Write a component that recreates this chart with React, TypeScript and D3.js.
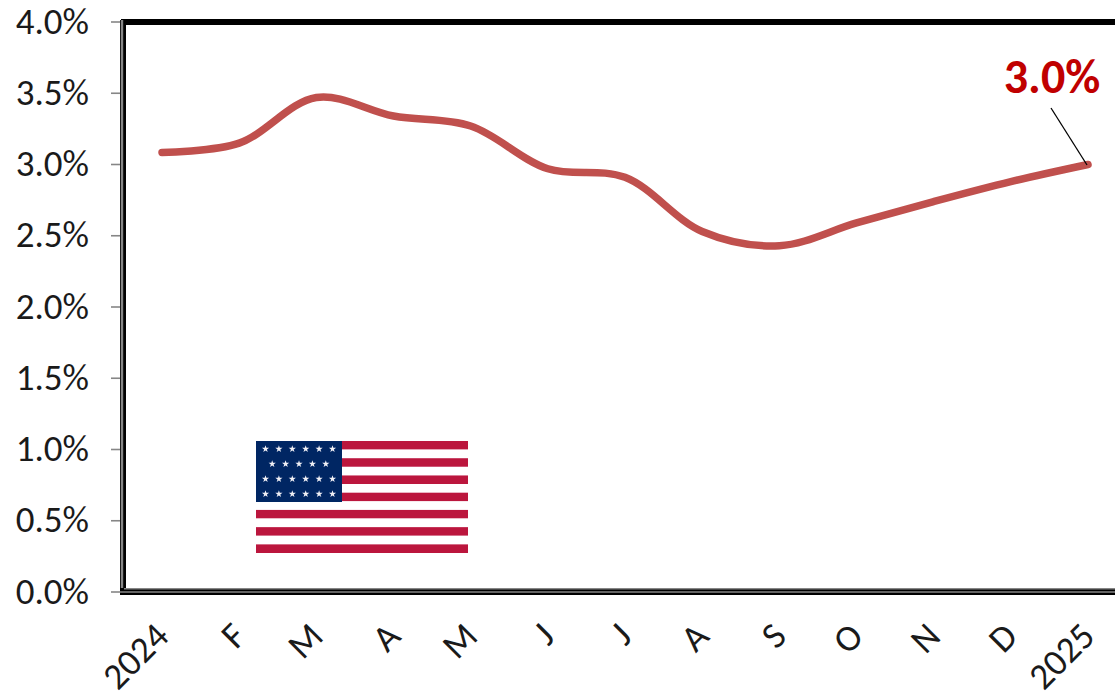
import React from "react";
import * as d3 from "d3";

const months = ["2024", "F", "M", "A", "M", "J", "J", "A", "S", "O", "N", "D", "2025"];
const rates = [3.085, 3.15, 3.47, 3.34, 3.27, 2.97, 2.91, 2.53, 2.43, 2.59, 2.74, 2.88, 3.0];
const yTicks = [0, 0.5, 1, 1.5, 2, 2.5, 3, 3.5, 4];
const callout = "3.0%";

const WIDTH = 1115;
const HEIGHT = 692;
const FONT = "Carlito, Calibri, Lato, sans-serif";

const x = d3.scalePoint<number>().domain(d3.range(months.length)).range([162, 1088]);
const y = d3.scaleLinear().domain([0, 4]).range([592, 22]);

const linePath = d3
  .line<number>()
  .x((_, i) => x(i) as number)
  .y((d) => y(d))
  .curve(d3.curveCatmullRom.alpha(0.5));

// Flag geometry
const FLAG = { x: 256, y: 441, w: 212, h: 112, cantonW: 86, cantonH: 61 };
const stripeCount = 13;
const starRows = [6, 5, 6, 6];

function Flag() {
  const sh = FLAG.h / stripeCount;
  const colGap = 13.4;
  const star = d3.symbol().type(d3.symbolStar).size(16)() as string;
  return (
    <g filter="url(#flag-soft)">
      {d3.range(stripeCount).map((i) => (
        <rect
          key={i}
          x={FLAG.x}
          y={FLAG.y + i * sh}
          width={FLAG.w}
          height={sh}
          fill={i % 2 === 0 ? "#bb133e" : "#ffffff"}
        />
      ))}
      <rect x={FLAG.x} y={FLAG.y} width={FLAG.cantonW} height={FLAG.cantonH} fill="#002664" />
      {starRows.map((n, r) =>
        d3.range(n).map((c) => (
          <path
            key={`${r}-${c}`}
            d={star}
            fill="#f0f0f5"
            transform={`translate(${FLAG.x + FLAG.cantonW / 2 + (c - (n - 1) / 2) * colGap},${
              FLAG.y + 8 + r * 15
            })`}
          />
        ))
      )}
    </g>
  );
}

export default function App() {
  return (
    <svg
      width={WIDTH}
      height={HEIGHT}
      viewBox={`0 0 ${WIDTH} ${HEIGHT}`}
      style={{ position: "absolute", left: 0, top: 0, background: "#fff" }}
      fontFamily={FONT}
    >
      <defs>
        <filter id="flag-soft" x="-2%" y="-2%" width="104%" height="104%">
          <feGaussianBlur stdDeviation={0.6} />
        </filter>
      </defs>

      {/* value axis ticks and labels */}
      {yTicks.map((t) => (
        <g key={t}>
          <line x1={111} x2={122} y1={y(t)} y2={y(t)} stroke="#868686" strokeWidth={1.6} />
          <text x={89} y={y(t) + 11.5} textAnchor="end" fontSize={37} fill="#1a1a1a">
            {t.toFixed(1)}%
          </text>
        </g>
      ))}

      {/* plot frame */}
      <line x1={121} x2={WIDTH} y1={22} y2={22} stroke="#000" strokeWidth={6} />
      <line x1={123} x2={123} y1={20} y2={595} stroke="#000" strokeWidth={6} />
      <line x1={122} x2={122} y1={20} y2={592} stroke="#868686" strokeWidth={2.4} />
      <line x1={120} x2={WIDTH} y1={591.5} y2={591.5} stroke="#000" strokeWidth={7} />
      <line x1={124} x2={WIDTH} y1={588.7} y2={588.7} stroke="#868686" strokeWidth={1.4} />
      <line x1={120} x2={WIDTH} y1={592} y2={592} stroke="#868686" strokeWidth={1.4} />

      {/* month labels */}
      {months.map((m, i) => (
        <text
          key={i}
          transform={`translate(${x(i) as number},${629.5}) rotate(-45)`}
          textAnchor="end"
          dominantBaseline="central"
          fontSize={37}
          fill="#1a1a1a"
        >
          {m}
        </text>
      ))}

      <path
        d={linePath(rates) as string}
        fill="none"
        stroke="#c0504d"
        strokeWidth={7.5}
        strokeLinecap="round"
      />

      {/* end-of-series callout */}
      <line x1={1051} y1={108} x2={1087} y2={165} stroke="#000" strokeWidth={1.3} />
      <text x={1052} y={93} textAnchor="middle" fontSize={48} fontWeight={700} fill="#c00000">
        {callout}
      </text>

      <Flag />
    </svg>
  );
}
